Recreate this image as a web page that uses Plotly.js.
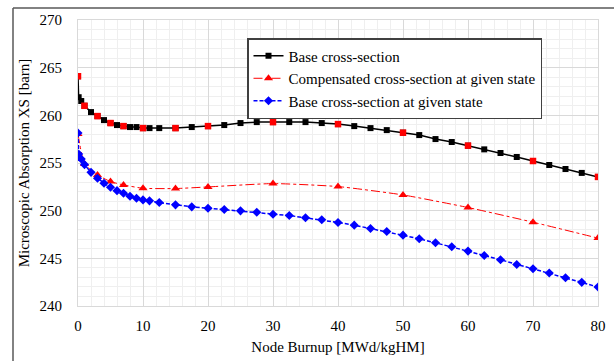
<!DOCTYPE html>
<html>
<head>
<meta charset="utf-8">
<script src="https://cdn.plot.ly/plotly-3.0.1.min.js"></script>
<style>
html,body{margin:0;padding:0;background:#fff;}
#chart{width:614px;height:361px;}
#chart text{font-family:'Liberation Serif' !important;}
</style>
</head>
<body>
<div id="chart"></div>
<script>
// Burnup grid for base series
const burnup = [0, 0.1, 0.5, 1, 2, 3, 4, 5, 6, 7, 8, 9, 10, 11, 12.5, 15, 17.5, 20, 22.5, 25, 27.5, 30, 32.5, 35, 37.5, 40, 42.5, 45, 47.5, 50, 52.5, 55, 57.5, 60, 62.5, 65, 67.5, 70, 72.5, 75, 77.5, 80];
const baseXS = [264.1, 261.9, 261.5, 261.0, 260.34, 259.92, 259.5, 259.19, 258.98, 258.87, 258.77, 258.77, 258.66, 258.66, 258.66, 258.66, 258.77, 258.87, 258.98, 259.19, 259.29, 259.29, 259.29, 259.29, 259.19, 259.08, 258.87, 258.66, 258.45, 258.18, 257.93, 257.51, 257.2, 256.82, 256.43, 256.05, 255.63, 255.21, 254.79, 254.37, 253.96, 253.54];
const baseStateXS = [258.14, 255.94, 255.42, 254.83, 254.02, 253.4, 252.87, 252.46, 252.1, 251.83, 251.51, 251.3, 251.13, 251.03, 250.85, 250.61, 250.4, 250.26, 250.12, 249.98, 249.84, 249.63, 249.49, 249.25, 249.04, 248.76, 248.48, 248.13, 247.82, 247.43, 247.05, 246.63, 246.21, 245.76, 245.3, 244.85, 244.36, 243.91, 243.46, 242.97, 242.48, 241.99];
// Sparse burnup points for compensated series
const burnupSparse = [0, 1, 3, 5, 7, 10, 15, 20, 30, 40, 50, 60, 70, 80];
const compXS = [258.04, 254.9, 253.75, 253.05, 252.7, 252.35, 252.32, 252.49, 252.84, 252.53, 251.65, 250.33, 248.79, 247.12];
const refXS = [264.1, 261.0, 259.92, 259.19, 258.87, 258.66, 258.66, 258.87, 259.29, 259.08, 258.18, 256.82, 255.21, 253.54];

const xTicks = [0, 10, 20, 30, 40, 50, 60, 70, 80];
const yTicks = [240, 245, 250, 255, 260, 265, 270];

const FAM = 'Times New Roman';

const traces = [
  {x: burnup, y: baseXS, name: 'Base cross-section', mode: 'lines+markers',
   line: {color: '#000000', width: 1.5}, marker: {symbol: 'square', size: 6, color: '#000000'}},
  {x: burnupSparse, y: compXS, name: 'Compensated cross-section at given state', mode: 'lines+markers',
   line: {color: '#ff0000', width: 1, dash: 'dashdot', shape: 'spline', smoothing: 0.5},
   marker: {symbol: 'triangle-up', size: 8, color: '#ff0000'}},
  {x: burnup, y: baseStateXS, name: 'Base cross-section at given state', mode: 'lines+markers',
   line: {color: '#0000ff', width: 1.5, dash: '4px,2px'}, marker: {symbol: 'diamond', size: 7, color: '#0000ff'}},
  {x: burnupSparse, y: refXS, name: 'Reference', mode: 'markers', showlegend: false,
   marker: {symbol: 'square', size: 6.5, color: '#ff0000'}}
];

const layout = {
  width: 614, height: 361,
  margin: {l: 78, r: 16, t: 20, b: 55},
  paper_bgcolor: '#ffffff', plot_bgcolor: '#ffffff',
  font: {family: FAM, size: 15, color: '#000000'},
  showlegend: true,
  legend: {x: 0.325, y: 0.937, xanchor: 'left', yanchor: 'top',
    bordercolor: '#404040', borderwidth: 1.5, bgcolor: '#ffffff',
    font: {family: FAM, size: 15, color: '#000000'}, itemwidth: 30, traceorder: 'normal'},
  xaxis: {
    range: [0, 80], tickvals: xTicks, ticktext: xTicks.map(String), ticks: '',
    showgrid: true, gridcolor: '#d9d9d9', gridwidth: 1,
    minor: {dtick: 2, showgrid: true, gridcolor: '#efefef', gridwidth: 1},
    showline: true, linecolor: '#d9d9d9', linewidth: 1, mirror: true, zeroline: false,
    ticklabelstandoff: 6,
    tickfont: {family: FAM, size: 15, color: '#000000'},
    title: {text: 'Node Burnup [MWd/kgHM]', font: {family: FAM, size: 15, color: '#000000'}, standoff: 8}
  },
  yaxis: {
    range: [240, 270], tickvals: yTicks, ticktext: yTicks.map(String), ticks: '',
    showgrid: true, gridcolor: '#d9d9d9', gridwidth: 1,
    minor: {dtick: 1, showgrid: true, gridcolor: '#efefef', gridwidth: 1},
    showline: true, linecolor: '#d9d9d9', linewidth: 1, mirror: true, zeroline: false,
    ticklabelstandoff: 12,
    tickfont: {family: FAM, size: 15, color: '#000000'},
    title: {text: 'Microscopic Absorption XS [barn]', font: {family: FAM, size: 15, color: '#000000'}, standoff: 6}
  },
  shapes: [
    {type: 'line', xref: 'paper', yref: 'paper', x0: -0.125, x1: 1.05, y0: 1.042, y1: 1.042, line: {color: '#595959', width: 1.5}},
    {type: 'line', xref: 'paper', yref: 'paper', x0: -0.125, x1: -0.125, y0: 1.042, y1: -0.2, line: {color: '#595959', width: 1.5}}
  ]
};

Plotly.newPlot('chart', traces, layout, {displayModeBar: false, staticPlot: true});
</script>
</body>
</html>
